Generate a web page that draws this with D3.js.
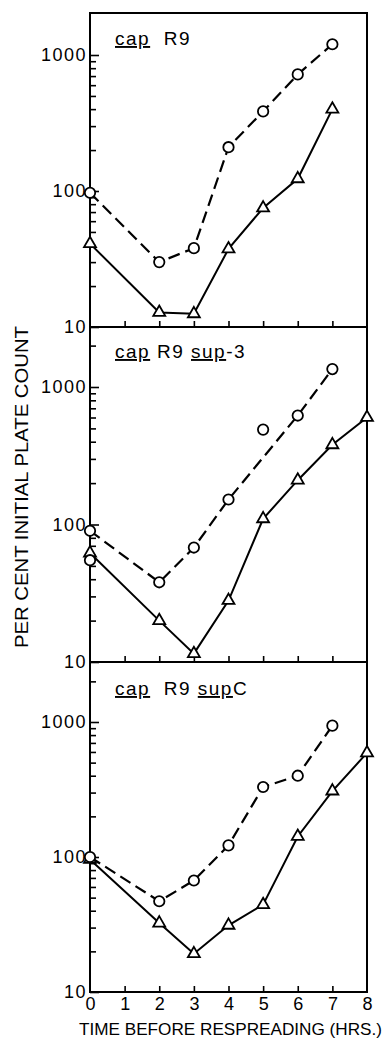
<html>
<head>
  <script src="https://d3js.org/d3.v7.min.js"></script>
  <style>
    body {
      background-color: white;
      margin: 0;
      padding: 0;
      overflow: hidden;
    }
    svg {
      font-family: "Liberation Sans", Arial, sans-serif;
    }
    .tick line {
      stroke: black;
      stroke-width: 1.6;
    }
    .tick text {
      font-size: 18px;
      fill: black;
    }
  </style>
</head>
<body>
  <svg width="390" height="1043"></svg>

  <script>
    // hours on the x axis
    const hourTicks = [0, 1, 2, 3, 4, 5, 6, 7, 8];

    // panel 1: cap R9
    const p1CircleHours = [0, 2, 3, 4, 5, 6, 7];
    const p1CircleVals  = [97, 30, 38, 210, 385, 720, 1200];
    const p1TriHours    = [0, 2, 3, 4, 5, 6, 7];
    const p1TriVals     = [41, 12.8, 12.5, 37.5, 75, 123, 400];

    // panel 2: cap R9 sup-3
    const p2CircleHours = [0, 2, 3, 4, 6, 7];
    const p2CircleVals  = [90, 38, 68, 152, 620, 1350];
    const p2ExtraHours  = [0, 5];          // circles not on the dashed line
    const p2ExtraVals   = [55, 490];
    const p2TriHours    = [0, 2, 3, 4, 5, 6, 7, 8];
    const p2TriVals     = [62, 20, 11.5, 28, 110, 210, 380, 600];

    // panel 3: cap R9 supC
    const p3CircleHours = [0, 2, 3, 4, 5, 6, 7];
    const p3CircleVals  = [100, 47, 67, 122, 330, 400, 940];
    const p3TriHours    = [0, 2, 3, 4, 5, 6, 7, 8];
    const p3TriVals     = [96, 32.4, 19.2, 31.2, 44.4, 142, 308, 590];

    const yMajor = [10, 100, 1000];

    const zip = (xs, ys) => xs.map((h, i) => ({ h: h, v: ys[i] }));

    const panels = [
      { title: [["cap", true], ["  R9", false]],
        top: 13, y10: 327, y1000: 55,
        circles: zip(p1CircleHours, p1CircleVals), extra: [],
        tris: zip(p1TriHours, p1TriVals), titleY: 45 },
      { title: [["cap", true], [" R9 ", false], ["sup", true], ["-3", false]],
        top: 327, y10: 662, y1000: 387,
        circles: zip(p2CircleHours, p2CircleVals), extra: zip(p2ExtraHours, p2ExtraVals),
        tris: zip(p2TriHours, p2TriVals), titleY: 358 },
      { title: [["cap", true], ["  R9 ", false], ["sup", true], ["C", false]],
        top: 662, y10: 992, y1000: 722,
        circles: zip(p3CircleHours, p3CircleVals), extra: [],
        tris: zip(p3TriHours, p3TriVals), titleY: 695 }
    ];

    const svg = d3.select("svg");
    const left = 90, right = 367;

    const x = d3.scaleLinear().domain([0, 8]).range([left, right]);

    const tri = d3.symbol().type(d3.symbolTriangle).size(62);

    panels.forEach((p, pi) => {
      const y = d3.scaleLog().domain([10, 1000]).range([p.y10, p.y1000]);
      const topVal = y.invert(p.top + 2);
      const g = svg.append("g");

      // minor y ticks
      const minor = y.copy().domain([10, topVal]).ticks()
        .filter(t => yMajor.indexOf(t) < 0 && t <= topVal);
      g.append("g")
        .attr("transform", "translate(" + left + ",0)")
        .call(d3.axisLeft(y).tickValues(minor).tickSize(-6).tickFormat(""))
        .call(a => a.select(".domain").remove());

      // major y ticks with labels
      g.append("g")
        .attr("transform", "translate(" + left + ",0)")
        .call(d3.axisLeft(y).tickValues(yMajor).tickSize(-9).tickPadding(3).tickFormat(d3.format("d")))
        .call(a => a.select(".domain").remove())
        .call(a => a.selectAll("text").attr("font-size", 18).style("letter-spacing", "1.5px"));

      // x ticks along the bottom of each panel
      g.append("g")
        .attr("transform", "translate(0," + p.y10 + ")")
        .call(d3.axisBottom(x).tickValues(hourTicks.slice(1, 8)).tickSize(-6).tickFormat(""))
        .call(a => a.select(".domain").remove());

      // frame
      g.append("rect")
        .attr("x", left)
        .attr("y", p.top)
        .attr("width", right - left)
        .attr("height", p.y10 - p.top)
        .attr("fill", "none")
        .attr("stroke", "black")
        .attr("stroke-width", 2);

      const line = d3.line().x(d => x(d.h)).y(d => y(d.v));

      g.append("path")
        .datum(p.circles)
        .attr("fill", "none")
        .attr("stroke", "black")
        .attr("stroke-width", 2.2)
        .attr("stroke-dasharray", "12,6")
        .attr("d", line);

      g.append("path")
        .datum(p.tris)
        .attr("fill", "none")
        .attr("stroke", "black")
        .attr("stroke-width", 2)
        .attr("d", line);

      g.selectAll(".tri")
        .data(p.tris)
        .enter().append("path")
        .attr("class", "tri")
        .attr("transform", d => "translate(" + x(d.h) + "," + y(d.v) + ")")
        .attr("d", tri)
        .attr("fill", "white")
        .attr("stroke", "black")
        .attr("stroke-width", 1.8);

      g.selectAll(".circ")
        .data(p.circles.concat(p.extra))
        .enter().append("circle")
        .attr("class", "circ")
        .attr("cx", d => x(d.h))
        .attr("cy", d => y(d.v))
        .attr("r", 5.2)
        .attr("fill", "white")
        .attr("stroke", "black")
        .attr("stroke-width", 1.8);

      // panel title
      const t = g.append("text")
        .attr("x", 115)
        .attr("y", p.titleY)
        .attr("font-size", 19)
        .attr("fill", "black")
        .style("letter-spacing", "1.5px")
        .attr("xml:space", "preserve");
      p.title.forEach(s => {
        t.append("tspan")
          .text(s[0])
          .style("text-decoration", s[1] ? "underline" : "none")
          .style("white-space", "pre");
      });

      // hour labels on the bottom panel only
      if (pi === panels.length - 1) {
        svg.append("g")
          .attr("transform", "translate(0," + p.y10 + ")")
          .call(d3.axisBottom(x).tickValues(hourTicks).tickSize(0).tickPadding(5).tickFormat(d3.format("d")))
          .call(a => a.select(".domain").remove())
          .call(a => a.selectAll("text").attr("font-size", 18));
      }
    });

    // axis titles
    svg.append("text")
      .attr("x", 79)
      .attr("y", 1035)
      .attr("font-size", 17)
      .attr("textLength", 303)
      .attr("lengthAdjust", "spacingAndGlyphs")
      .text("TIME BEFORE RESPREADING (HRS.)");

    svg.append("text")
      .attr("transform", "translate(28,487) rotate(-90)")
      .attr("text-anchor", "middle")
      .attr("font-size", 19)
      .attr("textLength", 322)
      .attr("lengthAdjust", "spacingAndGlyphs")
      .text("PER CENT INITIAL PLATE COUNT");
  </script>
</body>
</html>
